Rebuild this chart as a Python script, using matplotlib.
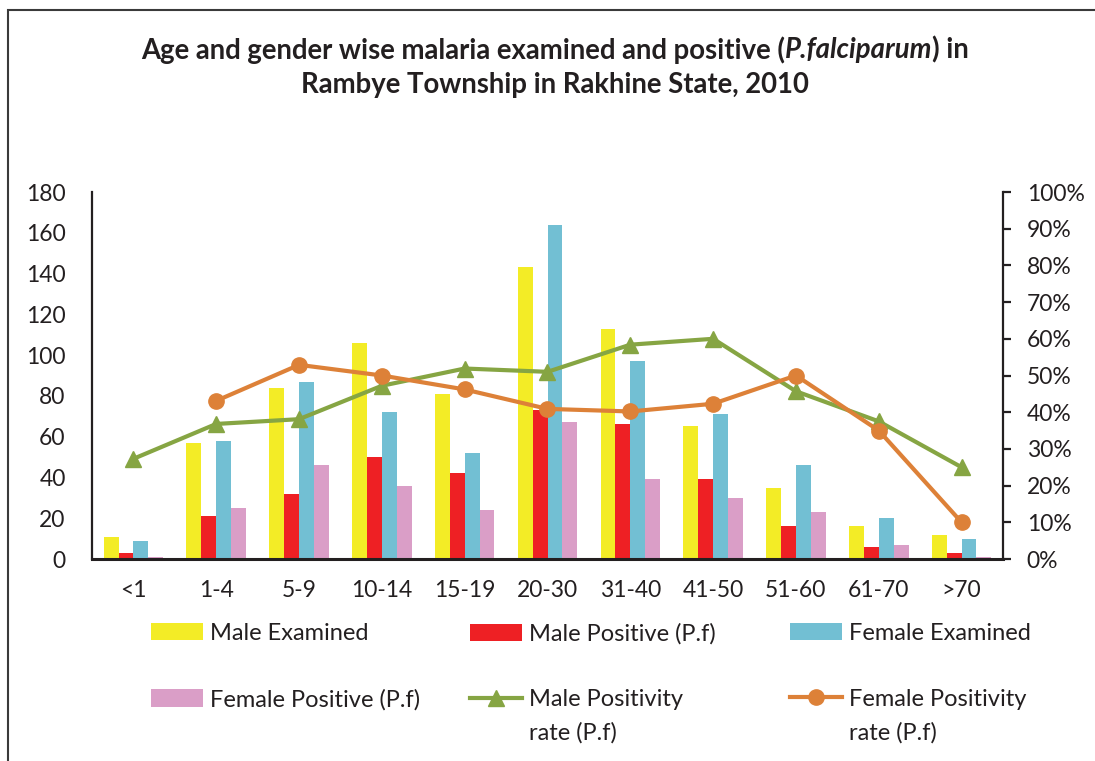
import numpy as np
import matplotlib.pyplot as plt
from matplotlib.patches import Rectangle
from matplotlib.ticker import PercentFormatter

plt.rcParams['font.family'] = ['Lato', 'DejaVu Sans']

age_groups = ['<1', '1-4', '5-9', '10-14', '15-19', '20-30', '31-40', '41-50', '51-60', '61-70', '>70']
male_examined = [11, 57, 84, 106, 81, 143, 113, 65, 35, 16, 12]
male_positive = [3, 21, 32, 50, 42, 73, 66, 39, 16, 6, 3]
female_examined = [9, 58, 87, 72, 52, 164, 97, 71, 46, 20, 10]
female_positive = [1, 25, 46, 36, 24, 67, 39, 30, 23, 7, 1]
male_rate = [27.3, 36.8, 38.1, 47.2, 51.9, 51.0, 58.4, 60.0, 45.7, 37.5, 25.0]
female_rate = [np.nan, 43.1, 52.9, 50.0, 46.2, 40.9, 40.2, 42.3, 50.0, 35.0, 10.0]

ink = '#231F20'
fs = 16.5
lfs = 17

fig = plt.figure(figsize=(10.95, 7.61), dpi=100)
ax = fig.add_axes([92/1095, 1 - 559/761, (1003 - 92)/1095, (559 - 192)/761])

x = np.arange(len(age_groups))
w = 0.18
bars = [
    (male_examined, '#F3EC26', 'Male Examined'),
    (male_positive, '#EE2024', 'Male Positive (P.f)'),
    (female_examined, '#72BFD3', 'Female Examined'),
    (female_positive, '#DA9EC7', 'Female Positive (P.f)'),
]
handles = []
for i, (vals, col, lab) in enumerate(bars):
    b = ax.bar(x + (i - 1.5) * w, vals, w, color=col, label=lab, zorder=2)
    handles.append(b)

ax.set_xlim(-0.5, len(age_groups) - 0.5)
ax.set_ylim(0, 180)
ax.set_yticks(range(0, 181, 20))
ax.set_xticks(x)
ax.set_xticklabels(age_groups)
ax.tick_params(axis='y', length=0, pad=19, labelsize=fs, colors=ink)
ax.tick_params(axis='x', length=0, pad=15, labelsize=fs, colors=ink)
for s in ['top', 'right']:
    ax.spines[s].set_visible(False)
ax.spines['left'].set_linewidth(1.6)
ax.spines['bottom'].set_linewidth(2.2)
ax.spines['left'].set_color(ink)
ax.spines['bottom'].set_color(ink)

ax2 = ax.twinx()
ax2.set_ylim(0, 100)
ax2.set_yticks(range(0, 101, 10))
ax2.yaxis.set_major_formatter(PercentFormatter(decimals=0))
ax2.tick_params(axis='y', length=6, width=1.6, pad=11, labelsize=fs, colors=ink)
for s in ['top', 'left', 'bottom']:
    ax2.spines[s].set_visible(False)
ax2.spines['right'].set_linewidth(1.6)
ax2.spines['right'].set_color(ink)

lm, = ax2.plot(x, male_rate, color='#86A543', lw=3, marker='^', ms=11,
               label='Male Positivity', zorder=3)
lf, = ax2.plot(x, female_rate, color='#DD8138', lw=3, marker='o', ms=11,
               label='Female Positivity', zorder=3)

# one legend per column so the columns sit where Excel put them
columns = [([handles[0], handles[3]], 151), ([handles[1], lm], 470), ([handles[2], lf], 790)]
legs = []
for hs, xpos in columns:
    lg = fig.legend(handles=hs, ncol=1,
                    loc='upper left', bbox_to_anchor=(xpos/1095, 1 - 623/761),
                    frameon=False, fontsize=lfs, handlelength=2.2, handleheight=0.75,
                    handletextpad=0.3, labelspacing=1.9,
                    borderpad=0, borderaxespad=0)
    for t in lg.get_texts():
        t.set_color(ink)
    legs.append(lg)

# frame around figure
fig.add_artist(Rectangle((8/1095, -0.02), 1.1, 1 - 10/761 + 0.02, transform=fig.transFigure,
                         fill=False, edgecolor='#3a3a3a', lw=1.5))

fig.canvas.draw()
r = fig.canvas.get_renderer()
inv = fig.transFigure.inverted()
for lg in legs[1:]:
    bb = lg.get_texts()[1].get_window_extent(r)
    x0, y0 = inv.transform((bb.x0, bb.y0))
    fig.text(x0, y0 - 0.016, 'rate (P.f)', fontsize=lfs, color=ink, va='top', ha='left')

# title with italic species name
parts = [('Age and gender wise malaria examined and positive (', 'normal'),
         ('P.falciparum', 'italic'), (') in', 'normal')]
tfs = 19.8
ty1 = 1 - 50/761
tts = []
for s, st in parts:
    tts.append(fig.text(0, ty1, s, fontsize=tfs, fontweight='bold', style=st,
                        color=ink, va='center', ha='left'))
fig.canvas.draw()
widths = [inv.transform((t.get_window_extent(r).width, 0))[0] - inv.transform((0, 0))[0] for t in tts]
xs = 555/1095 - sum(widths) / 2
for t, wd in zip(tts, widths):
    t.set_x(xs)
    xs += wd
fig.text(555/1095, 1 - 85/761, 'Rambye Township in Rakhine State, 2010', fontsize=tfs,
         fontweight='bold', color=ink, va='center', ha='center')

fig.savefig('out.png', dpi=100)
